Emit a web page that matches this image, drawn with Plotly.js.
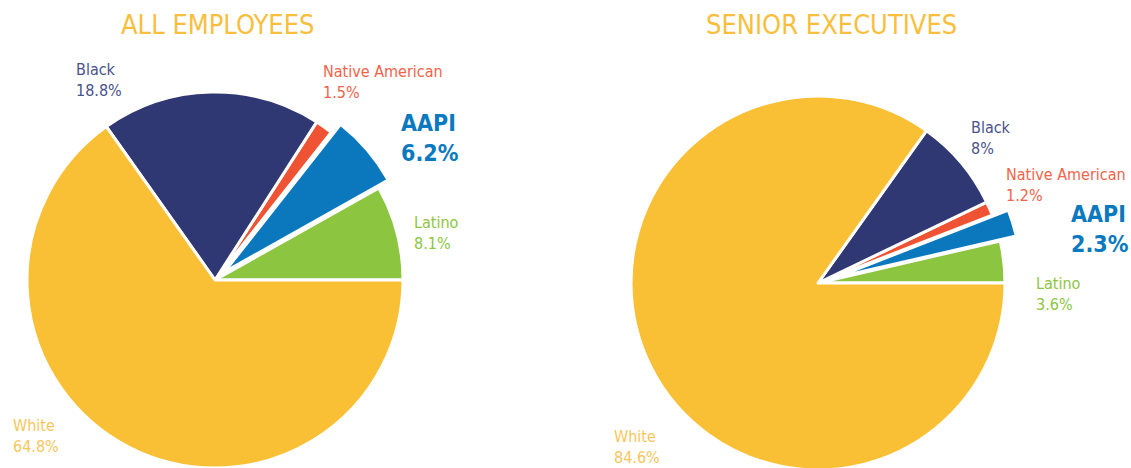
<!DOCTYPE html>
<html>
<head>
<meta charset="utf-8">
<script src="https://cdn.plot.ly/plotly-3.0.1.min.js"></script>
<style>
  html, body { margin: 0; padding: 0; overflow: hidden; background: #fff; }
  #chart { width: 1131px; height: 560px; }
</style>
</head>
<body>
<div id="chart"></div>
<script>
"use strict";

// slices go counterclockwise from 3 o'clock in this order
const groups = ["Latino", "AAPI", "Native American", "Black", "White"];
const allEmployees = [8.1, 6.2, 1.5, 18.8, 64.8];
const seniorExecutives = [3.6, 2.3, 1.2, 8, 84.6];
const titles = ["ALL EMPLOYEES", "SENIOR EXECUTIVES"];

const sliceColors = ["#8CC540", "#0B78BE", "#EF5334", "#303874", "#F9C036"];
const labelColors = ["#8DC63F", "#0B79BF", "#F1634A", "#4A518C", "#F9C65C"];

const W = 1131, H = 560;
const FONT = "'DejaVu Sans Condensed', 'Liberation Sans Narrow', sans-serif";

function pieDomain(cx, cy, r, pull) {
    let half = r * (1 + pull);
    return {
        x: [(cx - half) / W, (cx + half) / W],
        y: [1 - (cy + half) / H, 1 - (cy - half) / H]
    };
}

function makePie(values, cx, cy, r, pull) {
    let total = values.reduce((a, b) => a + b, 0);
    // counterclockwise pies put the END of the first slice at `rotation`,
    // so back it off by the first slice to start it at 3 o'clock
    let rot = 90 - 360 * values[0] / total;
    return {
        type: "pie",
        values: values,
        labels: groups,
        sort: false,
        direction: "counterclockwise",
        rotation: rot,
        pull: groups.map(g => g === "AAPI" ? pull : 0),
        marker: { colors: sliceColors, line: { color: "#ffffff", width: 3 } },
        textinfo: "none",
        hoverinfo: "none",
        domain: pieDomain(cx, cy, r, pull)
    };
}

function note(text, x, y, color, size, bold) {
    return {
        text: bold ? "<b>" + text + "</b>" : text,
        x: x / W, y: 1 - y / H,
        xref: "paper", yref: "paper",
        xanchor: "left", yanchor: "middle",
        align: "left",
        showarrow: false,
        font: { family: FONT, size: size, color: color }
    };
}

function labelsFor(values, spots) {
    return groups.map((g, i) => {
        let big = g === "AAPI";
        return note(g + "<br>" + values[i] + "%", spots[i][0], spots[i][1],
                    labelColors[i], big ? 23 : 16, big);
    });
}

function main() {
    let leftSpots = [[412, 233], [399, 138], [321, 82], [74, 80], [11, 436]];
    let rightSpots = [[1034, 294], [1069, 229], [1004, 185], [969, 138], [612, 447]];

    let data = [
        makePie(allEmployees, 215, 280, 188, 0.065),
        makePie(seniorExecutives, 818, 283, 187, 0.09)
    ];

    let annotations = labelsFor(allEmployees, leftSpots)
        .concat(labelsFor(seniorExecutives, rightSpots));
    annotations.push(note(titles[0], 119, 25, "#F9BE3C", 27, false));
    annotations.push(note(titles[1], 704, 25, "#F9BE3C", 27, false));

    let layout = {
        width: W, height: H,
        margin: { l: 0, r: 0, t: 0, b: 0 },
        showlegend: false,
        paper_bgcolor: "#ffffff",
        annotations: annotations
    };

    Plotly.newPlot("chart", data, layout, { displayModeBar: false, staticPlot: true });
}

document.addEventListener("DOMContentLoaded", event => main());
</script>
</body>
</html>
